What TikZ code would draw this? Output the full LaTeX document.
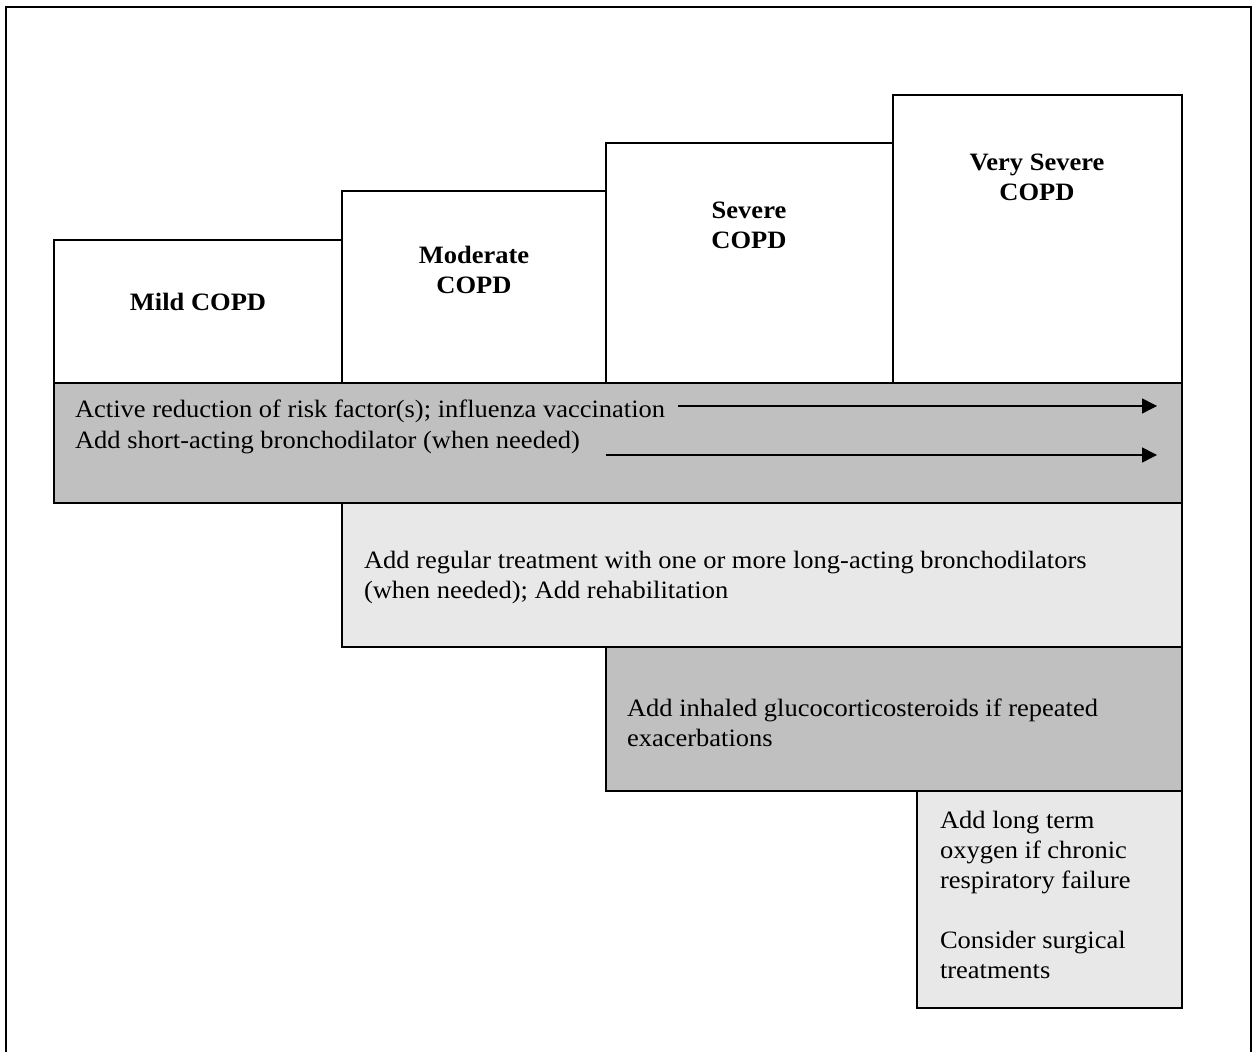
\documentclass[tikz,border=0pt]{standalone}
\usepackage{fontspec}
\setmainfont{Liberation Serif}[FakeStretch=1.06]
\usetikzlibrary{positioning,arrows.meta}

\definecolor{darkband}{RGB}{192,192,192}
\definecolor{lightband}{RGB}{232,232,232}

\begin{document}
\begin{tikzpicture}[x=0.5pt,y=-0.5pt,line width=1pt,
  font=\fontsize{12.5}{15}\selectfont,
  stage/.style={font=\fontsize{12.5}{15}\selectfont\bfseries,align=center},
  treat/.style={anchor=base west,align=left,inner sep=0pt},
  flow/.style={line width=0.75pt,-{Triangle[length=7.5pt,width=7.5pt]}}]

\useasboundingbox (0,0) rectangle (1256,1052);

% frame
\draw (6,1060) |- (1251,7) -- (1251,1060);

% stages
\draw (54,240) rectangle (342,383);
\draw (342,191) rectangle (606,383);
\draw (606,143) rectangle (893,383);
\draw (893,95) rectangle (1182,383);

\node[stage] (mild) at (198,302) {Mild COPD};
\node[stage] (moderate) at (474,270) {Moderate\\COPD};
\node[stage] (severe) at (749,225) {Severe\\COPD};
\node[stage] (verysevere) at (1037,177) {Very Severe\\COPD};

% treatment bands
\filldraw[fill=darkband] (54,383) rectangle (1182,503);
\filldraw[fill=lightband] (342,503) rectangle (1182,647);
\filldraw[fill=darkband] (606,647) rectangle (1182,791);
\filldraw[fill=lightband] (917,791) rectangle (1182,1008);

\node[treat] (risk) at (74,418) {Active reduction of risk factor(s); influenza vaccination};
\node[treat] (shortacting) at (74,449) {Add short-acting bronchodilator (when needed)};

\coordinate (riskstart) at (678,406);
\coordinate (riskend) at (1157,406);
\coordinate (shortstart) at (606,455);
\coordinate (shortend) at (1157,455);
\draw[flow] (riskstart) -- (riskend);
\draw[flow] (shortstart) -- (shortend);

% base anchor sits on the last line
\node[treat] (longacting) at (363,598) {Add regular treatment with one or more long-acting bronchodilators\\(when needed); Add rehabilitation};
\node[treat] (steroids) at (626,746) {Add inhaled glucocorticosteroids if repeated\\exacerbations};
\node[treat] (oxygen) at (939,978) {Add long term\\oxygen if chronic\\respiratory failure\\[15pt]Consider surgical\\treatments};

\end{tikzpicture}
\end{document}
